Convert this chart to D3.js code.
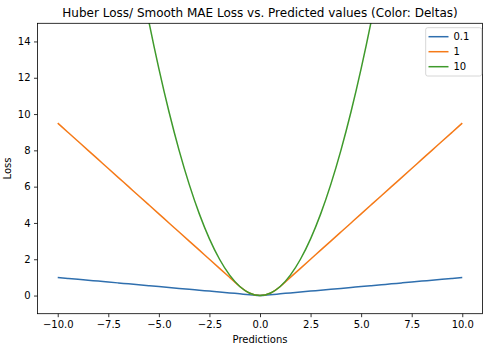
<!DOCTYPE html>
<html><head><meta charset="utf-8">
<script src="https://cdn.jsdelivr.net/npm/d3@7"></script>
<style>body{margin:0;background:#fff}svg{font-family:"DejaVu Sans",sans-serif}</style>
</head><body><svg id="c" width="492" height="355"></svg>
<script>
const predictions = [-10,-9.5,-9,-8.5,-8,-7.5,-7,-6.5,-6,-5.5,-5,-4.5,-4,-3.5,-3,-2.5,-2,-1.5,-1,-0.5,0,0.5,1,1.5,2,2.5,3,3.5,4,4.5,5,5.5,6,6.5,7,7.5,8,8.5,9,9.5,10];
const loss01 = [0.995,0.945,0.895,0.845,0.795,0.745,0.695,0.645,0.595,0.545,0.495,0.445,0.395,0.345,0.295,0.245,0.195,0.145,0.095,0.045,0,0.045,0.095,0.145,0.195,0.245,0.295,0.345,0.395,0.445,0.495,0.545,0.595,0.645,0.695,0.745,0.795,0.845,0.895,0.945,0.995];
const loss1 = [9.5,9,8.5,8,7.5,7,6.5,6,5.5,5,4.5,4,3.5,3,2.5,2,1.5,1,0.5,0.125,0,0.125,0.5,1,1.5,2,2.5,3,3.5,4,4.5,5,5.5,6,6.5,7,7.5,8,8.5,9,9.5];
const loss10 = [50,45.125,40.5,36.125,32,28.125,24.5,21.125,18,15.125,12.5,10.125,8,6.125,4.5,3.125,2,1.125,0.5,0.125,0,0.125,0.5,1.125,2,3.125,4.5,6.125,8,10.125,12.5,15.125,18,21.125,24.5,28.125,32,36.125,40.5,45.125,50];
const deltaLabels = ["0.1","1","10"];
const colors = ["#2f6fae","#f57a18","#3f9a2c"];
const xTicks = [-10,-7.5,-5,-2.5,0,2.5,5,7.5,10];
const yTicks = [0,2,4,6,8,10,12,14];
const title = "Huber Loss/ Smooth MAE Loss vs. Predicted values (Color: Deltas)";

const svg = d3.select("#c");
const L=37.5, R=482.5, T=23.3, B=313.7;
const x = d3.scaleLinear().domain([-11,11]).range([L,R]);
const y = d3.scaleLinear().domain([-1,15]).range([B,T]);

svg.append("defs").append("clipPath").attr("id","clip")
  .append("rect").attr("x",L).attr("y",T).attr("width",R-L).attr("height",B-T);

const series=[loss01,loss1,loss10];
const line = d3.line().x((d,i)=>x(predictions[i])).y(d=>y(d)).curve(d3.curveMonotoneX);
const g = svg.append("g").attr("clip-path","url(#clip)");
series.forEach((s,k)=>{
  g.append("path").datum(s).attr("d",line).attr("fill","none")
   .attr("stroke",colors[k]).attr("stroke-width",1.5).attr("stroke-linejoin","round");
});

const fmtX = d=> d3.format(".1f")(d).replace("-","−");
const xa = svg.append("g").attr("transform",`translate(0,${B})`)
  .call(d3.axisBottom(x).tickValues(xTicks).tickFormat(fmtX).tickSize(3.5).tickPadding(3.5));
const ya = svg.append("g").attr("transform",`translate(${L},0)`)
  .call(d3.axisLeft(y).tickValues(yTicks).tickFormat(d3.format("d")).tickSize(3.5).tickPadding(3.5));
[xa,ya].forEach(a=>{
  a.select(".domain").remove();
  a.selectAll("line").attr("stroke","#000").attr("stroke-width",0.8);
  a.selectAll("text").attr("font-size",10).attr("fill","#000").attr("font-family","DejaVu Sans");
});
svg.append("rect").attr("x",L).attr("y",T).attr("width",R-L).attr("height",B-T)
  .attr("fill","none").attr("stroke","#000").attr("stroke-width",0.8);

svg.append("text").attr("x",(L+R)/2).attr("y",17).attr("text-anchor","middle")
  .attr("font-size",12).text(title);
svg.append("text").attr("x",(L+R)/2).attr("y",343).attr("text-anchor","middle")
  .attr("font-size",10).text("Predictions");
svg.append("text").attr("transform",`translate(11,${(T+B)/2}) rotate(-90)`).attr("text-anchor","middle")
  .attr("font-size",10).text("Loss");

const lg = svg.append("g");
lg.append("rect").attr("x",425.7).attr("y",27.7).attr("width",56).attr("height",48.3)
  .attr("rx",2).attr("fill","#fff").attr("fill-opacity",0.8).attr("stroke","#ccc").attr("stroke-width",0.8);
deltaLabels.forEach((t,k)=>{
  const yy = 36.7 + k*15;
  lg.append("line").attr("x1",428.5).attr("x2",448.5).attr("y1",yy).attr("y2",yy)
    .attr("stroke",colors[k]).attr("stroke-width",1.5);
  lg.append("text").attr("x",453.5).attr("y",yy+3.5).attr("font-size",10).text(t);
});
</script></body></html>
